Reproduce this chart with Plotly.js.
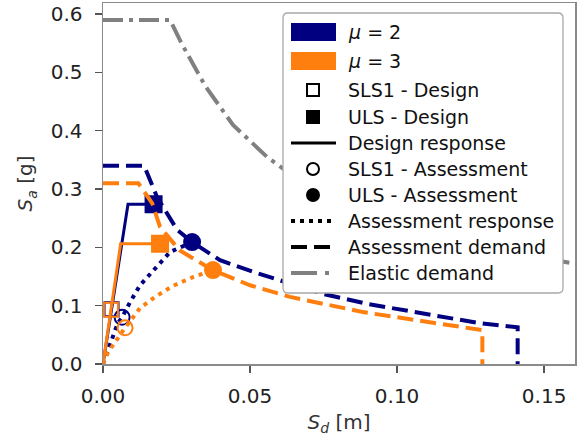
<!DOCTYPE html>
<html><head><meta charset="utf-8">
<script src="https://cdn.plot.ly/plotly-3.0.1.min.js"></script>
<style>html,body{margin:0;padding:0;background:#fff;}#chart{width:577px;height:441px;}</style>
</head><body><div id="chart"></div>
<script>
// ---------- data ----------
const elasticSd = [0, 0.0228, 0.0269, 0.0347, 0.0442, 0.0558, 0.0612, 0.08, 0.10, 0.12, 0.14, 0.16, 0.165];
const elasticSa = [0.59, 0.59, 0.548, 0.477, 0.41, 0.355, 0.335, 0.282, 0.24, 0.212, 0.19, 0.172, 0.168];

const demandSd_mu2 = [0, 0.014, 0.0184, 0.0252, 0.0303, 0.0398, 0.051, 0.0602, 0.075, 0.09, 0.1054, 0.128, 0.141, 0.141];
const demandSa_mu2 = [0.34, 0.34, 0.286, 0.23, 0.209, 0.178, 0.158, 0.144, 0.12, 0.103, 0.089, 0.070, 0.063, 0];
const demandSd_mu3 = [0, 0.012, 0.0167, 0.0194, 0.026, 0.0374, 0.05, 0.0636, 0.0884, 0.117, 0.129, 0.129];
const demandSa_mu3 = [0.31, 0.31, 0.276, 0.235, 0.195, 0.161, 0.135, 0.115, 0.089, 0.067, 0.058, 0];

const designSd_mu2 = [0, 0.0085, 0.0172];
const designSa_mu2 = [0, 0.274, 0.274];
const designSd_mu3 = [0, 0.006, 0.0194];
const designSa_mu3 = [0, 0.206, 0.206];

const assessSd_mu2 = [0, 0.0024, 0.005, 0.0065, 0.0092, 0.0126, 0.015, 0.020, 0.0228, 0.0303];
const assessSa_mu2 = [0, 0.036, 0.07, 0.080, 0.106, 0.135, 0.149, 0.178, 0.192, 0.209];
const assessSd_mu3 = [0, 0.0017, 0.0075, 0.0126, 0.0177, 0.0238, 0.0306, 0.0374];
const assessSa_mu3 = [0, 0.02, 0.062, 0.096, 0.115, 0.134, 0.149, 0.161];

const slsDesign_mu2 = [0.0029, 0.094];
const slsDesign_mu3 = [0.0027, 0.093];
const ulsDesign_mu2 = [0.0172, 0.274];
const ulsDesign_mu3 = [0.0194, 0.206];
const slsAssess_mu2 = [0.0065, 0.080];
const slsAssess_mu3 = [0.0075, 0.062];
const ulsAssess_mu2 = [0.0303, 0.209];
const ulsAssess_mu3 = [0.0374, 0.161];

const xTickVals = [0, 0.05, 0.10, 0.15];
const xTickText = ['0.00', '0.05', '0.10', '0.15'];
const yTickVals = [0, 0.1, 0.2, 0.3, 0.4, 0.5, 0.6];
const yTickText = ['0.0', '0.1', '0.2', '0.3', '0.4', '0.5', '0.6'];

const legendLabels = ['<i>μ</i> = 2', '<i>μ</i> = 3', 'SLS1 - Design', 'ULS - Design', 'Design response',
  'SLS1 - Assessment', 'ULS - Assessment', 'Assessment response', 'Assessment demand', 'Elastic demand'];

// ---------- styles ----------
const NAVY = '#000080', ORANGE = '#ff7f0e', GRAY = '#808080';
const FONT = 'DejaVu Sans, sans-serif';
const W = 577, H = 441, ML = 103, MR = 2, MT = 3, MB = 77;
const PW = W - ML - MR, PH = H - MT - MB;
const px = x => (x - ML) / PW;
const py = y => (H - MB - y) / PH;

const DEMAND_DASH = '16px,7px';
const DOT_DASH = '4px,5px';
const DASHDOT = '20px,6px,4px,6px';
const LW = 4;

function lines(x, y, color, dash, width) {
  return {x: x, y: y, type: 'scatter', mode: 'lines', showlegend: false, hoverinfo: 'skip',
    line: {color: color, dash: dash, width: width}};
}
function point(pt, color, symbol, size) {
  return {x: [pt[0]], y: [pt[1]], type: 'scatter', mode: 'markers', showlegend: false, hoverinfo: 'skip',
    marker: {color: color, symbol: symbol, size: size, line: {color: color, width: 2}}};
}

const traces = [
  lines(elasticSd, elasticSa, GRAY, DASHDOT, LW),
  lines(demandSd_mu2, demandSa_mu2, NAVY, DEMAND_DASH, LW),
  lines(designSd_mu2, designSa_mu2, NAVY, 'solid', 3),
  lines(assessSd_mu2, assessSa_mu2, NAVY, DOT_DASH, LW),
  point(slsDesign_mu2, NAVY, 'square-open', 14),
  point(ulsDesign_mu2, NAVY, 'square', 16),
  point(slsAssess_mu2, NAVY, 'circle-open', 15),
  point(ulsAssess_mu2, NAVY, 'circle', 16),
  lines(demandSd_mu3, demandSa_mu3, ORANGE, DEMAND_DASH, LW),
  lines(designSd_mu3, designSa_mu3, ORANGE, 'solid', 3),
  lines(assessSd_mu3, assessSa_mu3, ORANGE, DOT_DASH, LW),
  point(slsDesign_mu3, ORANGE, 'square-open', 14),
  point(ulsDesign_mu3, ORANGE, 'square', 16),
  point(slsAssess_mu3, ORANGE, 'circle-open', 15),
  point(ulsAssess_mu3, ORANGE, 'circle', 16)
];

// ---------- hand-made legend ----------
const LX0 = 283, LX1 = 563, LY0 = 13, LY1 = 293, R = 5;
const rowY = [32, 61, 90, 117, 143, 169, 195, 221, 247, 273];
const HX0 = 291, HX1 = 336, HXC = 313, TX = 346;

function roundedBox(x0, y0, x1, y1, r) {
  const P = (x, y) => px(x) + ',' + py(y);
  return 'M' + P(x0 + r, y0) + ' L' + P(x1 - r, y0) + ' Q' + P(x1, y0) + ' ' + P(x1, y0 + r) +
    ' L' + P(x1, y1 - r) + ' Q' + P(x1, y1) + ' ' + P(x1 - r, y1) +
    ' L' + P(x0 + r, y1) + ' Q' + P(x0, y1) + ' ' + P(x0, y1 - r) +
    ' L' + P(x0, y0 + r) + ' Q' + P(x0, y0) + ' ' + P(x0 + r, y0) + ' Z';
}
const P = {xref: 'paper', yref: 'paper'};
const shapes = [
  Object.assign({type: 'path', path: roundedBox(LX0, LY0, LX1, LY1, R), fillcolor: '#ffffff',
    line: {color: '#a8a8a8', width: 1.3}}, P),
  Object.assign({type: 'rect', x0: px(HX0), x1: px(HX1), y0: py(rowY[0] - 9), y1: py(rowY[0] + 9),
    fillcolor: NAVY, line: {width: 0}}, P),
  Object.assign({type: 'rect', x0: px(HX0), x1: px(HX1), y0: py(rowY[1] - 9), y1: py(rowY[1] + 9),
    fillcolor: ORANGE, line: {width: 0}}, P),
  Object.assign({type: 'rect', x0: px(HXC - 6), x1: px(HXC + 6), y0: py(rowY[2] - 6), y1: py(rowY[2] + 6),
    fillcolor: '#ffffff', line: {color: '#000', width: 2}}, P),
  Object.assign({type: 'rect', x0: px(HXC - 7), x1: px(HXC + 7), y0: py(rowY[3] - 7), y1: py(rowY[3] + 7),
    fillcolor: '#000', line: {color: '#000', width: 0}}, P),
  Object.assign({type: 'line', x0: px(HX0), x1: px(HX1), y0: py(rowY[4]), y1: py(rowY[4]),
    line: {color: '#000', width: 3}}, P),
  Object.assign({type: 'circle', x0: px(HXC - 6), x1: px(HXC + 6), y0: py(rowY[5] - 6), y1: py(rowY[5] + 6),
    fillcolor: '#ffffff', line: {color: '#000', width: 2}}, P),
  Object.assign({type: 'circle', x0: px(HXC - 7), x1: px(HXC + 7), y0: py(rowY[6] - 7), y1: py(rowY[6] + 7),
    fillcolor: '#000', line: {color: '#000', width: 0}}, P),
  Object.assign({type: 'line', x0: px(HX0), x1: px(HX1), y0: py(rowY[7]), y1: py(rowY[7]),
    line: {color: '#000', width: LW, dash: DOT_DASH}}, P),
  Object.assign({type: 'line', x0: px(HX0), x1: px(HX1 - 6), y0: py(rowY[8]), y1: py(rowY[8]),
    line: {color: '#000', width: LW, dash: '16px,7px'}}, P),
  Object.assign({type: 'line', x0: px(HX0), x1: px(HX1 - 5), y0: py(rowY[9]), y1: py(rowY[9]),
    line: {color: GRAY, width: LW, dash: '26px,8px,4px,6px'}}, P)
];
const annotations = legendLabels.map((t, i) => ({
  xref: 'paper', yref: 'paper', x: px(TX), y: py(rowY[i]), xanchor: 'left', yanchor: 'middle',
  text: t, showarrow: false, font: {family: FONT, size: 19, color: '#111'}
}));

const axisCommon = {
  showline: true, linecolor: '#8a8a8a', linewidth: 1.5, mirror: true,
  ticks: 'outside', ticklen: 7, tickwidth: 1.5, tickcolor: '#555',
  showgrid: false, zeroline: false, tickfont: {family: FONT, size: 20, color: '#222'}
};
const layout = {
  width: W, height: H, margin: {l: ML, r: MR, t: MT, b: MB},
  paper_bgcolor: '#fff', plot_bgcolor: '#fff', showlegend: false,
  font: {family: FONT},
  xaxis: Object.assign({}, axisCommon, {range: [0, 0.1605], tickmode: 'array', tickvals: xTickVals, ticktext: xTickText,
    ticklabelstandoff: 6,
    title: {text: '<i>S</i><sub><i>d</i></sub> [m]', font: {family: FONT, size: 20, color: '#333'}, standoff: 8}}),
  yaxis: Object.assign({}, axisCommon, {range: [0, 0.619], tickmode: 'array', tickvals: yTickVals, ticktext: yTickText,
    ticklabelstandoff: 8,
    title: {text: '<i>S</i><sub><i>a</i></sub> [g]', font: {family: FONT, size: 20, color: '#333'}, standoff: 12}}),
  shapes: shapes, annotations: annotations
};
Plotly.newPlot('chart', traces, layout, {staticPlot: true, displayModeBar: false});
</script>
</body></html>
